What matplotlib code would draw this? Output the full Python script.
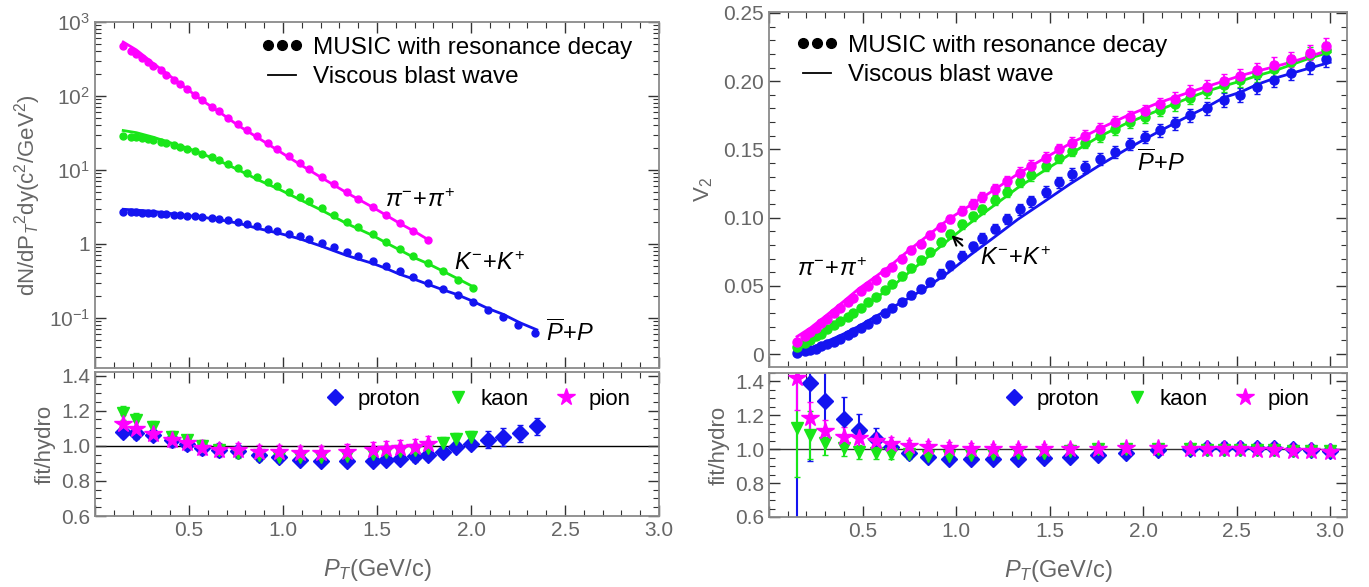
import numpy as np
import matplotlib.pyplot as plt
from matplotlib.lines import Line2D
from matplotlib.ticker import (MultipleLocator, LogLocator, FixedLocator,
                               NullFormatter, FuncFormatter)

# hydro (MUSIC) pT grid
pt_hydro = [0.15, 0.19, 0.22, 0.25, 0.28, 0.31, 0.35, 0.38, 0.42, 0.45,
            0.49, 0.53, 0.57, 0.62, 0.66, 0.71, 0.76, 0.81, 0.86, 0.92,
            0.97, 1.03, 1.09, 1.14, 1.21, 1.27, 1.34, 1.40, 1.48, 1.55,
            1.62, 1.69, 1.77, 1.85, 1.93, 2.01, 2.09, 2.17, 2.25, 2.34,
            2.43, 2.52, 2.61, 2.70, 2.79, 2.89, 2.98]

# spectra, MUSIC points
pion_spec = [474, 405, 365, 325, 290, 258, 221, 195, 164, 145,
             123, 104, 88, 72, 62, 50.5, 41.5, 34.5, 28.6, 22.8,
             19.0, 15.4, 12.4, 10.4, 8.1, 6.5, 5.05, 4.1, 3.15, 2.47,
             1.93, 1.5, 1.13]
kaon_spec = [28.8, 28.2, 27.9, 26.8, 25.8, 25.0, 24.1, 22.8, 21.4, 20.5,
             19.2, 17.8, 16.5, 15.0, 13.6, 12.1, 10.5, 9.2, 7.97, 6.82,
             5.98, 5.04, 4.25, 3.75, 3.02, 2.46, 2.0, 1.67, 1.34, 1.07,
             0.855, 0.689, 0.548, 0.425, 0.326, 0.252]
proton_spec = [2.73, 2.71, 2.68, 2.65, 2.62, 2.60, 2.56, 2.53, 2.48, 2.45,
               2.40, 2.36, 2.31, 2.24, 2.18, 2.08, 1.97, 1.86, 1.73, 1.61,
               1.50, 1.38, 1.26, 1.16, 1.02, 0.90, 0.77, 0.68, 0.59, 0.505,
               0.425, 0.36, 0.30, 0.249, 0.205, 0.166, 0.129, 0.104, 0.081,
               0.062]

# pT of the fit/hydro comparison (spectra)
pt_ratio_l = [0.15, 0.22, 0.31, 0.41, 0.49, 0.57, 0.66, 0.76, 0.87, 0.98,
              1.09, 1.20, 1.34, 1.48, 1.55, 1.62, 1.70, 1.77, 1.85, 1.92,
              2.00, 2.09, 2.17, 2.26, 2.35]

# viscous blast wave fit (spectra)
pion_spec_fit = [536, 419, 276, 177, 124, 87, 61, 40.2, 26.9, 17.9,
                 11.9, 8.0, 4.9, 3.1, 2.43, 1.9, 1.47, 1.15]
kaon_spec_fit = [34.1, 31.9, 27.7, 22.9, 19.8, 16.5, 13.3, 10.1, 7.3, 5.47,
                 3.97, 2.9, 1.88, 1.29, 1.03, 0.83, 0.648, 0.543, 0.429,
                 0.348, 0.273]
proton_spec_fit = [2.94, 2.86, 2.75, 2.56, 2.42, 2.30, 2.12, 1.91, 1.61,
                   1.39, 1.17, 0.94, 0.696, 0.542, 0.464, 0.389, 0.332,
                   0.285, 0.240, 0.209, 0.172, 0.134, 0.112, 0.086, 0.069]

# fit/hydro (spectra)
proton_rl = [1.08, 1.07, 1.06, 1.03, 1.01, 0.99, 0.975, 0.97, 0.95, 0.935,
             0.92, 0.915, 0.915, 0.915, 0.92, 0.926, 0.94, 0.95, 0.965,
             0.995, 1.01, 1.035, 1.05, 1.07, 1.11]
proton_rl_err = [0.03, 0.03, 0.03, 0.035, 0.035, 0.035, 0.035, 0.03, 0.025,
                 0.025, 0.025, 0.025, 0.03, 0.025, 0.025, 0.025, 0.03, 0.03,
                 0.025, 0.025, 0.03, 0.05, 0.05, 0.05, 0.05]
kaon_rl = [1.185, 1.145, 1.105, 1.05, 1.03, 1.0, 0.975, 0.96, 0.945, 0.935,
           0.935, 0.935, 0.94, 0.955, 0.965, 0.97, 0.975, 0.99, 1.015, 1.04,
           1.05]
kaon_rl_err = [0.04, 0.04, 0.035, 0.035, 0.03, 0.03, 0.03, 0.03, 0.03, 0.03,
               0.03, 0.03, 0.03, 0.03, 0.03, 0.03, 0.035, 0.035, 0.035,
               0.035, 0.035]
pion_rl = [1.125, 1.095, 1.068, 1.035, 1.015, 0.99, 0.977, 0.974, 0.965,
           0.964, 0.958, 0.958, 0.964, 0.977, 0.98, 0.985, 0.995, 1.01]
pion_rl_err = [0.05, 0.045, 0.04, 0.04, 0.04, 0.04, 0.04, 0.04, 0.04, 0.04,
               0.04, 0.04, 0.045, 0.045, 0.045, 0.045, 0.045, 0.045]

# v2, MUSIC points
pion_v2 = [0.009, 0.013, 0.016, 0.019, 0.023, 0.026, 0.030, 0.034, 0.038,
           0.041, 0.046, 0.050, 0.054, 0.060, 0.064, 0.070, 0.076, 0.081,
           0.087, 0.093, 0.099, 0.105, 0.110, 0.115, 0.121, 0.127, 0.133,
           0.138, 0.144, 0.150, 0.155, 0.160, 0.165, 0.170, 0.174, 0.178,
           0.183, 0.187, 0.192, 0.196, 0.200, 0.204, 0.208, 0.212, 0.216,
           0.221, 0.226]
kaon_v2 = [0.005, 0.008, 0.010, 0.013, 0.015, 0.018, 0.021, 0.024, 0.027,
           0.030, 0.034, 0.038, 0.042, 0.047, 0.051, 0.057, 0.063, 0.069,
           0.075, 0.082, 0.088, 0.095, 0.101, 0.106, 0.113, 0.119, 0.126,
           0.131, 0.138, 0.144, 0.149, 0.155, 0.160, 0.165, 0.170, 0.174,
           0.179, 0.183, 0.188, 0.193, 0.197, 0.201, 0.205, 0.209, 0.214,
           0.219, 0.223]
proton_v2 = [0.001, 0.002, 0.003, 0.004, 0.006, 0.007, 0.009, 0.011, 0.014,
             0.016, 0.019, 0.022, 0.026, 0.030, 0.034, 0.038, 0.043, 0.048,
             0.053, 0.059, 0.065, 0.072, 0.079, 0.085, 0.092, 0.099, 0.106,
             0.112, 0.119, 0.126, 0.132, 0.137, 0.143, 0.148, 0.154, 0.159,
             0.164, 0.169, 0.175, 0.180, 0.186, 0.190, 0.196, 0.201, 0.206,
             0.211, 0.216]
v2_err = [0.001, 0.001, 0.001, 0.001, 0.001, 0.0012, 0.0012, 0.0013, 0.0014,
          0.0015, 0.0016, 0.0018, 0.002, 0.002, 0.0022, 0.0024, 0.0026,
          0.0028, 0.003, 0.003, 0.0032, 0.0033, 0.0034, 0.0035, 0.0036,
          0.0037, 0.0038, 0.0039, 0.004, 0.004, 0.0041, 0.0042, 0.0043,
          0.0044, 0.0045, 0.0046, 0.0047, 0.0048, 0.0049, 0.005, 0.0051,
          0.0052, 0.0053, 0.0054, 0.0055, 0.0057, 0.0059]

# pT of the fit/hydro comparison (v2)
pt_ratio_r = [0.15, 0.22, 0.30, 0.40, 0.48, 0.57, 0.65, 0.75, 0.85, 0.96,
              1.08, 1.20, 1.33, 1.47, 1.61, 1.76, 1.91, 2.08, 2.25, 2.34,
              2.43, 2.52, 2.61, 2.70, 2.80, 2.90, 3.00]

# viscous blast wave fit (v2)
pion_v2_fit = [0.0128, 0.019, 0.0276, 0.0387, 0.0479, 0.0567, 0.0649,
               0.0763, 0.087, 0.0988, 0.1094, 0.120, 0.132, 0.1433, 0.1543,
               0.1647, 0.1744, 0.184, 0.192, 0.196, 0.200, 0.204, 0.2074,
               0.2105, 0.2143, 0.2186, 0.2231]
kaon_v2_fit = [0.0056, 0.0108, 0.0176, 0.0256, 0.0325, 0.041, 0.0485, 0.060,
               0.0712, 0.0837, 0.0965, 0.1086, 0.1219, 0.1343, 0.1465, 0.159,
               0.169, 0.1785, 0.188, 0.1926, 0.1964, 0.200, 0.204, 0.2075,
               0.2124, 0.2173, 0.2213]
proton_v2_fit = [0.0015, 0.0042, 0.0086, 0.0148, 0.0204, 0.0276, 0.0334,
                 0.0412, 0.0495, 0.0599, 0.073, 0.0852, 0.0987, 0.1116,
                 0.1247, 0.1377, 0.150, 0.1628, 0.175, 0.181, 0.1879, 0.1919,
                 0.1976, 0.202, 0.206, 0.210, 0.2138]

# fit/hydro (v2)
proton_rr = [1.55, 1.39, 1.285, 1.18, 1.115, 1.06, 1.012, 0.98, 0.955, 0.94,
             0.94, 0.94, 0.94, 0.946, 0.952, 0.966, 0.98, 0.996, 1.0, 1.005,
             1.01, 1.01, 1.008, 1.005, 1.0, 0.995, 0.99]
proton_rr_err = [1.0, 0.46, 0.22, 0.13, 0.095, 0.065, 0.03, 0.025, 0.02,
                 0.02, 0.02, 0.02, 0.02, 0.02, 0.02, 0.02, 0.02, 0.02, 0.02,
                 0.025, 0.03, 0.03, 0.03, 0.03, 0.025, 0.025, 0.025]
kaon_rr = [1.125, 1.085, 1.035, 1.005, 0.985, 0.975, 0.97, 0.97, 0.962,
           0.962, 0.965, 0.97, 0.975, 0.98, 0.99, 1.0, 1.0, 1.0, 1.0, 0.998,
           0.997, 0.995, 0.995, 0.993, 0.99, 0.99, 0.99]
kaon_rr_err = [0.29, 0.14, 0.07, 0.045, 0.04, 0.035, 0.03, 0.03, 0.025,
               0.025, 0.025, 0.025, 0.025, 0.025, 0.025, 0.025, 0.025, 0.025,
               0.02, 0.02, 0.02, 0.02, 0.02, 0.02, 0.02, 0.02, 0.02]
pion_rr = [1.42, 1.185, 1.105, 1.075, 1.065, 1.05, 1.03, 1.02, 1.012, 1.008,
           1.004, 1.0, 1.0, 1.0, 1.0, 1.002, 1.008, 1.008, 1.0, 1.0, 1.0,
           1.0, 0.997, 0.993, 0.99, 0.987, 0.985]
pion_rr_err = [0.19, 0.095, 0.065, 0.055, 0.05, 0.045, 0.04, 0.035, 0.035,
               0.035, 0.03, 0.03, 0.03, 0.03, 0.03, 0.025, 0.025, 0.025,
               0.025, 0.025, 0.025, 0.025, 0.025, 0.025, 0.02, 0.02, 0.02]

c_pi = '#FF00FF'
c_k = '#19E619'
c_p = '#1414F0'
gray = '#666666'

plt.rcParams['font.family'] = 'Liberation Sans'
plt.rcParams['mathtext.fontset'] = 'custom'
plt.rcParams['mathtext.rm'] = 'Liberation Sans'
plt.rcParams['mathtext.it'] = 'Liberation Sans:italic'
plt.rcParams['mathtext.bf'] = 'Liberation Sans:bold'
plt.rcParams['font.size'] = 15

W, H = 1369, 587
fig = plt.figure(figsize=(W / 100, H / 100), dpi=100)

ax_spec = fig.add_axes([95 / W, 1 - 368 / H, 564 / W, 346 / H])
ax_rl = fig.add_axes([95 / W, 1 - 516 / H, 564 / W, 144 / H])
ax_v2 = fig.add_axes([769 / W, 1 - 367 / H, 578 / W, 355 / H])
ax_rr = fig.add_axes([769 / W, 1 - 517 / H, 578 / W, 144 / H])


def style(ax, labels_x):
    for s in ax.spines.values():
        s.set_color('#8a8a8a')
        s.set_linewidth(1.3)
    ax.tick_params(which='both', direction='in', top=True, right=True,
                   color='#333333', labelcolor=gray, labelsize=15)
    ax.tick_params(which='major', length=8, width=1)
    ax.tick_params(which='minor', length=4, width=0.8)
    ax.xaxis.set_major_locator(MultipleLocator(0.5))
    ax.xaxis.set_minor_locator(MultipleLocator(0.1))
    if labels_x:
        ax.xaxis.set_major_formatter(FuncFormatter(
            lambda v, p: '' if abs(v) < 1e-9 else f'{v:.1f}'))
        ax.set_xlabel(r'$P_T$(GeV/c)', color=gray, fontsize=17, labelpad=12)
    else:
        ax.tick_params(labelbottom=False)


leg_h = [Line2D([], [], ls='none', marker='o', color='k', ms=7),
         Line2D([], [], color='k', lw=1.3)]
leg_l = ['MUSIC with resonance decay', 'Viscous blast wave']

rat_h = [Line2D([], [], ls='none', marker='D', color=c_p, ms=8),
         Line2D([], [], ls='none', marker='v', color=c_k, ms=9),
         Line2D([], [], ls='none', marker='*', color=c_pi, ms=13)]
rat_l = ['proton', 'kaon', 'pion']

# spectra
ax = ax_spec
ax.plot(pt_ratio_l[:18], pion_spec_fit, c=c_pi, lw=2)
ax.plot(pt_ratio_l[:21], kaon_spec_fit, c=c_k, lw=2)
ax.plot(pt_ratio_l, proton_spec_fit, c=c_p, lw=2)
ax.plot(pt_hydro[:33], pion_spec, 'o', c=c_pi, ms=5)
ax.plot(pt_hydro[:36], kaon_spec, 'o', c=c_k, ms=5)
ax.plot(pt_hydro[:40], proton_spec, 'o', c=c_p, ms=5)
ax.set_yscale('log')
ax.set_xlim(0, 3.0)
ax.set_ylim(0.021, 1000)
style(ax, False)
ax.yaxis.set_major_locator(FixedLocator([0.1, 1, 10, 100, 1000]))
ax.yaxis.set_major_formatter(FuncFormatter(
    lambda v, p: '1' if abs(v - 1) < 1e-9 else r'$10^{%d}$' % round(np.log10(v))))
ax.yaxis.set_minor_locator(LogLocator(base=10, subs=np.arange(2, 10)))
ax.yaxis.set_minor_formatter(NullFormatter())
ax.set_ylabel(r'dN/dP$_T{}^2$dy(c$^2$/GeV$^2$)', color=gray, fontsize=16,
              labelpad=4)
ax.text(1.54, 3.9, r'$\pi^{-}\!+\!\pi^{+}$', fontsize=17, va='center')
ax.text(1.91, 0.55, r'$K^{-}\!+\!K^{+}$', fontsize=17, va='center')
ax.text(2.40, 0.063, r'$\overline{P}\!+\!P$', fontsize=17, va='center')
ax.legend(leg_h, leg_l, loc='upper left', bbox_to_anchor=(0.255, 1.02),
          frameon=False, numpoints=3, fontsize=17.5, handlelength=1.75,
          handletextpad=0.4, labelspacing=0.3)

# fit/hydro spectra
ax = ax_rl
ax.axhline(1.0, color='k', lw=1, zorder=1)
ax.errorbar(pt_ratio_l, proton_rl, yerr=proton_rl_err, fmt='D', c=c_p,
            ms=8, capsize=2.5, elinewidth=1.5)
ax.errorbar(pt_ratio_l[:21], kaon_rl, yerr=kaon_rl_err, fmt='v', c=c_k,
            ms=9, capsize=2.5, elinewidth=1.5)
ax.errorbar(pt_ratio_l[:18], pion_rl, yerr=pion_rl_err, fmt='*', c=c_pi,
            ms=13, capsize=2.5, elinewidth=1.5)
ax.set_xlim(0, 3.0)
ax.set_ylim(0.6, 1.42)
style(ax, True)
ax.yaxis.set_major_locator(MultipleLocator(0.2))
ax.yaxis.set_minor_locator(MultipleLocator(0.05))
ax.yaxis.set_major_formatter(FuncFormatter(lambda v, p: f'{v:.1f}'))
ax.set_ylabel('fit/hydro', color=gray, fontsize=16, labelpad=4)
ax.legend(rat_h, rat_l, loc='upper right', bbox_to_anchor=(0.985, 1.02),
          frameon=False, ncol=3, fontsize=16, handlelength=1.0,
          handletextpad=0.5, columnspacing=1.2)

# v2
ax = ax_v2
ax.plot(pt_ratio_r, proton_v2_fit, c=c_p, lw=2)
ax.plot(pt_ratio_r, kaon_v2_fit, c=c_k, lw=2)
ax.plot(pt_ratio_r, pion_v2_fit, c=c_pi, lw=2)
ax.errorbar(pt_hydro, proton_v2, yerr=v2_err, fmt='o', c=c_p, ms=6.5,
            capsize=2.5, elinewidth=1.3)
ax.errorbar(pt_hydro, kaon_v2, yerr=v2_err, fmt='o', c=c_k, ms=6.5,
            capsize=2.5, elinewidth=1.3)
ax.errorbar(pt_hydro, pion_v2, yerr=v2_err, fmt='o', c=c_pi, ms=6.5,
            capsize=2.5, elinewidth=1.3)
ax.set_xlim(0, 3.09)
ax.set_ylim(-0.0095, 0.2507)
style(ax, False)
ax.yaxis.set_major_locator(MultipleLocator(0.05))
ax.yaxis.set_minor_locator(MultipleLocator(0.01))
ax.yaxis.set_major_formatter(FuncFormatter(
    lambda v, p: '0' if abs(v) < 1e-9 else f'{v:.2f}'))
ax.set_ylabel(r'V$_2$', color=gray, fontsize=16, labelpad=6)
ax.text(0.15, 0.0616, r'$\pi^{-}\!+\!\pi^{+}$', fontsize=17, va='center')
ax.text(1.13, 0.070, r'$K^{-}\!+\!K^{+}$', fontsize=17, va='center')
ax.text(1.97, 0.140, r'$\overline{P}\!+\!P$', fontsize=17, va='center')
ax.annotate('', xy=(0.965, 0.0885), xytext=(1.045, 0.078),
            arrowprops=dict(arrowstyle='->', color='k', lw=1.5))
ax.legend(leg_h, leg_l, loc='upper left', bbox_to_anchor=(0.008, 0.997),
          frameon=False, numpoints=3, fontsize=17.5, handlelength=1.75,
          handletextpad=0.4, labelspacing=0.3)

# fit/hydro v2
ax = ax_rr
ax.axhline(1.0, color='#333333', lw=1, zorder=1)
ax.errorbar(pt_ratio_r, proton_rr, yerr=proton_rr_err, fmt='D', c=c_p,
            ms=8, capsize=2.5, elinewidth=1.5)
ax.errorbar(pt_ratio_r, kaon_rr, yerr=kaon_rr_err, fmt='v', c=c_k,
            ms=9, capsize=2.5, elinewidth=1.5)
ax.errorbar(pt_ratio_r, pion_rr, yerr=pion_rr_err, fmt='*', c=c_pi,
            ms=13, capsize=2.5, elinewidth=1.5)
ax.set_xlim(0, 3.09)
ax.set_ylim(0.6, 1.45)
style(ax, True)
ax.yaxis.set_major_locator(MultipleLocator(0.2))
ax.yaxis.set_minor_locator(MultipleLocator(0.05))
ax.yaxis.set_major_formatter(FuncFormatter(lambda v, p: f'{v:.1f}'))
ax.set_ylabel('fit/hydro', color=gray, fontsize=16, labelpad=4)
ax.legend(rat_h, rat_l, loc='upper right', bbox_to_anchor=(0.97, 1.03),
          frameon=False, ncol=3, fontsize=16, handlelength=1.0,
          handletextpad=0.5, columnspacing=1.2)

fig.savefig('out.png', dpi=100)
